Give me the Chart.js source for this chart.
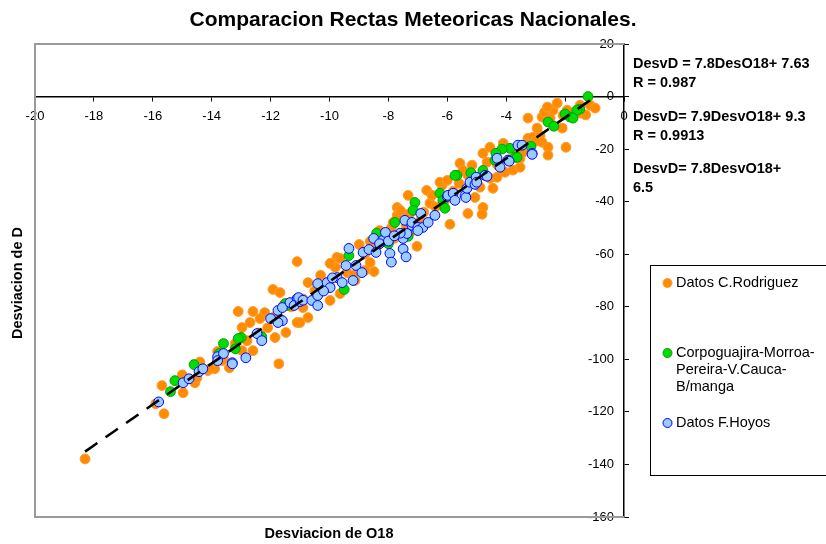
<!DOCTYPE html>
<html>
<head>
<meta charset="utf-8">
<script src="https://cdn.jsdelivr.net/npm/chart.js@4.4.0/dist/chart.umd.min.js"></script>
<style>
  html, body { margin: 0; padding: 0; background: #fff; }
  #wrap { width: 826px; height: 544px; }
</style>
</head>
<body>
<div id="wrap"><canvas id="myChart" width="826" height="544"></canvas></div>
<script>
const FONT = '"Liberation Sans", Arial, sans-serif';

const TITLE = 'Comparacion Rectas Meteoricas Nacionales.';
const X_TITLE = 'Desviacion de O18';
const Y_TITLE = 'Desviacion de D';

const X_TICKS = { min: -20, max: 0, step: 2 };
const Y_TICKS = { min: -160, max: 20, step: 20 };

const SERIES_NAMES = ['Datos C.Rodriguez', 'Corpoguajira-Morroa-Pereira-V.Cauca-B/manga', 'Datos F.Hoyos'];

const EQUATIONS = [
  ['DesvD = 7.8DesO18+ 7.63', 'R = 0.987'],
  ['DesvD= 7.9DesvO18+ 9.3', 'R = 0.9913'],
  ['DesvD= 7.8DesvO18+', '6.5']
];

// [O18, D] pairs
const rodriguez = [
  [-18.3, -137.9], [-15.62, -120.7], [-15.69, -110], [-15.9, -116.9], [-14.97, -112.7],
  [-15.0, -105.9], [-14.57, -108.9], [-14.5, -107], [-14.13, -104.3], [-13.9, -103.6],
  [-14.06, -103.6], [-13.4, -103.2], [-13.6, -99.8], [-13.65, -100.5], [-12.97, -96.7],
  [-12.6, -96.7], [-12.8, -92.9], [-11.72, -101.7], [-13.1, -81.8], [-12.6, -81.8],
  [-12.7, -86], [-12.97, -87.9], [-12.2, -82.2], [-12.36, -84.5], [-12.1, -88],
  [-11.85, -91.7], [-11.48, -89.8], [-11.5, -78.8], [-11.1, -86], [-11.68, -84.5],
  [-11.92, -73.4], [-11.68, -74.6], [-11.57, -79.5], [-10.9, -80.3], [-10.73, -84.1],
  [-11.0, -86], [-11.1, -62.8], [-10.73, -70.8], [-9.98, -77.6], [-9.64, -75],
  [-9.13, -70], [-9.75, -61.2], [-9.64, -61.6], [-9.8, -65], [-9.98, -63.5],
  [-10.3, -68], [-8.99, -56.3], [-8.62, -55.1], [-8.45, -58.6], [-8.62, -63.2],
  [-8.49, -66.6], [-8.8, -66.2], [-8.1, -54], [-7.03, -57], [-7.16, -50.9],
  [-7.33, -37.6], [-7.7, -42.2], [-7.5, -44.5], [-7.84, -47.9], [-7.27, -44.5],
  [-7.7, -45.2], [-7.6, -43.3], [-8.3, -51], [-7.9, -50], [-6.59, -40.6],
  [-6.7, -35.7], [-6.52, -37.6], [-6.18, -33.8], [-6.25, -32.6], [-6.0, -31.9],
  [-5.91, -48.6], [-5.3, -44.5], [-4.79, -42.2], [-4.82, -44.8], [-5.06, -38.4],
  [-4.89, -34.5], [-5.57, -25.4], [-5.47, -28.1], [-5.16, -26.1], [-4.55, -31.1],
  [-4.31, -30.7], [-4.45, -34.9], [-4.04, -28.8], [-4.79, -21.6], [-4.55, -19.3],
  [-4.1, -17.8], [-4.65, -25], [-3.77, -28], [-3.53, -26.9], [-3.53, -23.5],
  [-3.43, -21.2], [-3.26, -15.9], [-3.1, -15.5], [-2.85, -14.7], [-2.95, -12],
  [-2.78, -17.4], [-2.58, -19.3], [-2.58, -22.3], [-1.97, -19.3], [-2.1, -12],
  [-2.51, -8.2], [-2.41, -5.2], [-3.26, -8.2], [-2.78, -7.8], [-2.7, -6],
  [-2.6, -4], [-2.27, -2.5], [-2.07, -7.1], [-1.93, -5.2], [-1.49, -3.3],
  [-1.46, -6.3], [-1.3, -7], [-1.15, -3.3], [-0.98, -4.4], [-6.4, -42],
  [-6.8, -44], [-6.1, -40], [-5.8, -36], [-5.6, -33], [-5.0, -31],
  [-5.3, -30], [-4.3, -26], [-3.9, -24], [-3.7, -20], [-3.3, -18],
  [-3.0, -17], [-9.4, -67], [-9.2, -68], [-10.0, -72], [-10.5, -74],
  [-10.9, -77], [-11.3, -80], [-11.9, -84], [-12.4, -90], [-13.2, -94],
  [-13.8, -97], [-14.4, -101], [-8.8, -60], [-8.4, -57], [-7.8, -54],
  [-7.4, -49], [-6.9, -47]
];

const corpoguajira = [
  [-1.22, 0], [-1.5, -4.8], [-1.6, -5.2], [-1.83, -7.8], [-1.73, -8.2],
  [-2.0, -6.6], [-2.58, -9.7], [-2.38, -11.3], [-3.16, -18.9], [-3.87, -19.7],
  [-4.14, -20], [-3.7, -23.1], [-4.38, -24.2], [-4.35, -21.6], [-3.63, -23.1],
  [-4.79, -28.1], [-5.67, -30], [-5.74, -30], [-6.25, -36.8], [-6.15, -39.5],
  [-6.08, -42.5], [-7.1, -40.3], [-7.16, -43.3], [-7.78, -47.9], [-7.33, -53.2],
  [-8.4, -52], [-9.34, -60.5], [-9.5, -73.4], [-11.45, -79.5], [-11.5, -78.8],
  [-12.3, -91.4], [-13.0, -91.7], [-13.1, -92.1], [-13.2, -96], [-13.6, -94],
  [-13.75, -97.8], [-14.6, -102], [-15.25, -108.1], [-15.4, -112.3], [-8.0, -56],
  [-5.2, -29]
];

const hoyos = [
  [-15.8, -116.2], [-14.97, -108.9], [-14.77, -107.4], [-14.43, -104.7], [-14.3, -103.6],
  [-13.8, -99], [-13.6, -97.8], [-13.3, -101.3], [-13.8, -100.5], [-13.3, -101.7],
  [-12.84, -99.4], [-12.46, -90.2], [-12.3, -92.9], [-12.0, -84.5], [-11.75, -81.4],
  [-11.6, -85.3], [-11.75, -86], [-11.6, -80.3], [-11.34, -78.4], [-11.1, -76.9],
  [-11.2, -79.5], [-11.0, -78], [-11.05, -76.5], [-10.9, -77.5], [-10.6, -77.6],
  [-10.4, -75.7], [-10.4, -79.5], [-10.4, -71.2], [-10.08, -70.8], [-9.98, -72.7],
  [-9.74, -68.9], [-9.57, -70.8], [-10.2, -74], [-9.9, -69], [-9.44, -64.3],
  [-9.1, -64.3], [-8.9, -67], [-9.2, -70], [-9.34, -57.8], [-8.86, -59.3],
  [-8.66, -58.2], [-8.42, -59.3], [-8.5, -54], [-8.2, -54.8], [-8.1, -51.7],
  [-7.5, -54], [-7.37, -52.1], [-7.6, -52], [-7.95, -59.7], [-7.9, -63],
  [-7.5, -58], [-7.4, -61], [-7.44, -47.1], [-7.2, -49], [-7.2, -47.9],
  [-7.0, -49.8], [-6.83, -49.8], [-6.9, -44.5], [-6.65, -47.9], [-6.42, -45.2],
  [-6.0, -38], [-5.98, -37.6], [-5.8, -36.8], [-5.74, -39.5], [-5.4, -37.6],
  [-5.37, -38.4], [-5.33, -34.9], [-5.23, -32.6], [-5.06, -33.4], [-5.02, -30.7],
  [-5.0, -32.6], [-4.72, -30], [-4.65, -30.3], [-4.31, -23.5], [-3.94, -24.2],
  [-3.9, -24.6], [-4.21, -26.9], [-3.6, -18.5], [-3.46, -18.5], [-3.12, -21.6],
  [-3.12, -22], [-8.3, -56], [-8.0, -55], [-7.8, -53], [-7.0, -51]
];

// trend line DesvD = 7.8 DesO18 + 7.63, end points
const trendLine = [[-18.3, -135.1], [-1.0, -0.2]];

const COLORS = {
  rodriguez: { fill: '#ff8c00', line: '#ff9a2e' },
  corpoguajira: { fill: '#00dd00', line: '#00a000' },
  hoyos: { fill: '#99ccff', line: '#0000ff' }
};

const toPoints = arr => arr.map(p => ({ x: p[0], y: p[1] }));

const scatterSet = (label, data, c, order) => ({
  type: 'scatter',
  label: label,
  data: toPoints(data),
  backgroundColor: c.fill,
  borderColor: c.line,
  pointRadius: 4.9,
  pointBorderWidth: 1,
  order: order
});

// grey frame, titles, equations and the legend box
const decor = {
  id: 'decor',
  beforeDatasetsDraw(chart) {
    const { ctx, chartArea: a } = chart;
    ctx.save();
    ctx.strokeStyle = '#9a9a9a';
    ctx.lineWidth = 2;
    ctx.beginPath();
    ctx.moveTo(a.right, a.top);
    ctx.lineTo(a.left, a.top);
    ctx.lineTo(a.left, a.bottom);
    ctx.lineTo(a.right, a.bottom);
    ctx.stroke();
    ctx.restore();
  },
  afterDraw(chart) {
    const { ctx } = chart;
    ctx.save();
    ctx.fillStyle = '#000';
    ctx.textBaseline = 'middle';

    ctx.font = 'bold 21px ' + FONT;
    ctx.textAlign = 'center';
    ctx.fillText(TITLE, 413, 20);

    ctx.font = 'bold 14.5px ' + FONT;
    ctx.fillText(X_TITLE, 329, 534);

    ctx.save();
    ctx.translate(18, 283);
    ctx.rotate(-Math.PI / 2);
    ctx.fillText(Y_TITLE, 0, 0);
    ctx.restore();

    ctx.textAlign = 'left';
    const eqY = [64, 117, 169];
    EQUATIONS.forEach((lines, i) => {
      lines.forEach((t, j) => ctx.fillText(t, 633, eqY[i] + j * 18.5));
    });

    // legend
    ctx.strokeStyle = '#000';
    ctx.lineWidth = 1;
    ctx.strokeRect(650.5, 265.5, 190, 210);
    ctx.font = '14.5px ' + FONT;
    const items = [
      { c: COLORS.rodriguez, y: 283, lines: ['Datos C.Rodriguez'] },
      { c: COLORS.corpoguajira, y: 353, lines: ['Corpoguajira-Morroa-', 'Pereira-V.Cauca-', 'B/manga'] },
      { c: COLORS.hoyos, y: 423, lines: ['Datos F.Hoyos'] }
    ];
    items.forEach(it => {
      ctx.beginPath();
      ctx.arc(667.5, it.y, 4.5, 0, Math.PI * 2);
      ctx.fillStyle = it.c.fill;
      ctx.fill();
      ctx.strokeStyle = it.c.line;
      ctx.stroke();
      ctx.fillStyle = '#000';
      it.lines.forEach((t, j) => ctx.fillText(t, 676, it.y + j * 17));
    });
    ctx.restore();
  }
};

const tickFont = { family: FONT, size: 13 };

const config = {
  data: {
    datasets: [
      {
        type: 'line',
        label: 'tendencia',
        data: toPoints(trendLine),
        borderColor: '#000',
        borderWidth: 2.6,
        borderDash: [15, 10],
        pointRadius: 0,
        fill: false,
        order: 0
      },
      scatterSet(SERIES_NAMES[2], hoyos, COLORS.hoyos, 1),
      scatterSet(SERIES_NAMES[1], corpoguajira, COLORS.corpoguajira, 2),
      scatterSet(SERIES_NAMES[0], rodriguez, COLORS.rodriguez, 3)
    ]
  },
  options: {
    responsive: false,
    animation: false,
    layout: { padding: { left: 35, top: 44, right: 196, bottom: 27 } },
    plugins: {
      legend: { display: false },
      title: { display: false },
      tooltip: { enabled: false }
    },
    scales: {
      x: {
        type: 'linear',
        position: { y: 0 },
        min: X_TICKS.min,
        max: X_TICKS.max,
        ticks: { stepSize: X_TICKS.step, color: '#000', font: tickFont, maxRotation: 0, padding: 8 },
        grid: { drawOnChartArea: false, color: '#000', tickLength: 4 },
        border: { color: '#000', width: 1.5 }
      },
      y: {
        type: 'linear',
        position: 'right',
        min: Y_TICKS.min,
        max: Y_TICKS.max,
        // mirrored labels sit inside the plot, left of the axis line
        ticks: { stepSize: Y_TICKS.step, color: '#000', font: tickFont, mirror: true, padding: -10 },
        grid: { drawOnChartArea: false, color: '#000', tickLength: 5 },
        border: { color: '#000', width: 1.5 },
        afterFit: s => { s.width = 6; }
      }
    }
  },
  plugins: [decor]
};

new Chart(document.getElementById('myChart'), config);
</script>
</body>
</html>
